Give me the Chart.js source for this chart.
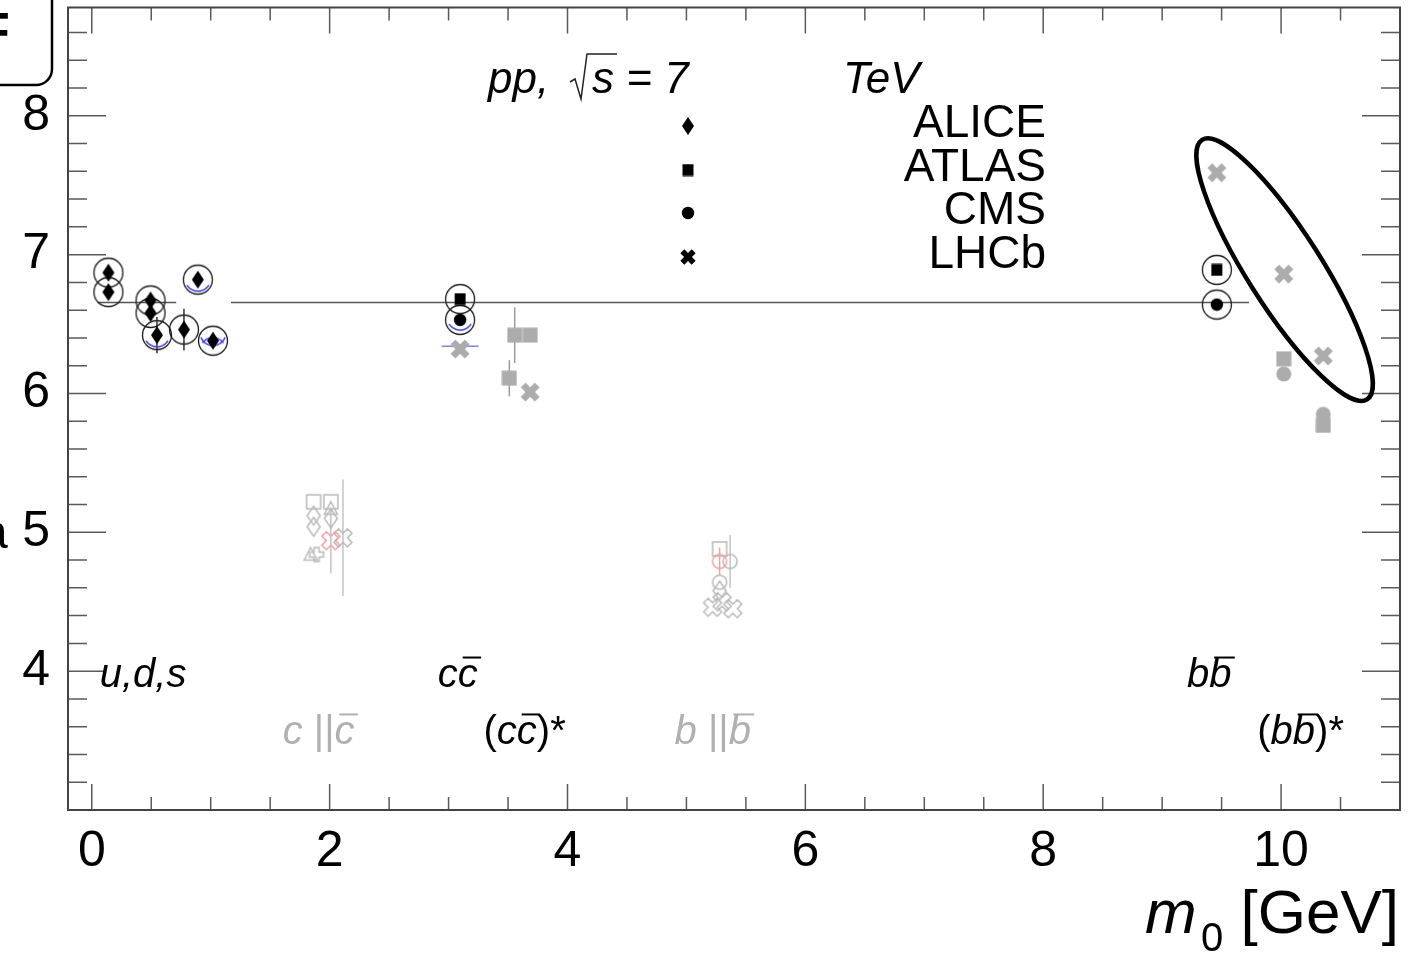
<!DOCTYPE html>
<html>
<head>
<meta charset="utf-8">
<script src="https://cdn.jsdelivr.net/npm/chart.js@4.4.1/dist/chart.umd.min.js"></script>
<style>
  html, body { margin: 0; padding: 0; background: #fff; overflow: hidden; }
  #wrap { width: 1426px; height: 956px; position: relative; }
</style>
</head>
<body>
<div id="wrap"><canvas id="chart" width="1426" height="956"></canvas></div>
<script>
// ---------------- axes ----------------
const xTicks = [0, 2, 4, 6, 8, 10];
const xMinorTicks = [0.5, 1, 1.5, 2.5, 3, 3.5, 4.5, 5, 5.5, 6.5, 7, 7.5, 8.5, 9, 9.5, 10.5];
const yTicks = [4, 5, 6, 7, 8];
const yMinorTicks = [3.2, 3.4, 3.6, 3.8, 4.2, 4.4, 4.6, 4.8, 5.2, 5.4, 5.6, 5.8,
                     6.2, 6.4, 6.6, 6.8, 7.2, 7.4, 7.6, 7.8, 8.2, 8.4, 8.6];

const experiments = ['ALICE', 'ATLAS', 'CMS', 'LHCb'];

// ---------------- light hadrons and ground-state quarkonia ----------------
const aliceMass = [0.140, 0.140, 0.494, 0.494, 0.548, 0.775, 0.892, 1.019];
const aliceM0   = [6.87, 6.73, 6.67, 6.58, 6.42, 6.46, 6.82, 6.38];
const aliceErr  = [0.02, 0.02, 0.03, 0.05, 0.13, 0.15, 0.03, 0.05];
const atlasMass = [3.097, 9.460];
const atlasM0   = [6.68, 6.89];
const cmsMass   = [3.097, 9.460];
const cmsM0     = [6.53, 6.64];

// ---------------- excited quarkonia ----------------
const lhcbExcMass  = [3.097, 3.686, 9.460, 10.023, 10.355];
const lhcbExcM0    = [6.32, 6.01, 7.59, 6.86, 6.27];
const atlasExcMass = [3.511, 3.556, 3.686, 10.023, 10.355];
const atlasExcM0   = [6.11, 6.42, 6.42, 6.25, 5.77];
const atlasExcErr  = [0.13, 0.20, 0.03, 0, 0];
const cmsExcMass   = [10.023, 10.355];
const cmsExcM0     = [6.14, 5.85];

// ---------------- open charm / open beauty ----------------
const aliceOpenMass = [1.865, 1.865, 2.010, 5.279];
const aliceOpenM0   = [5.12, 5.04, 5.10, 4.58];
const atlasOpenMass = [1.865, 2.010, 5.279];
const atlasOpenM0   = [5.22, 5.22, 4.88];
const cmsOpenMass   = [5.367, 5.279];
const cmsOpenM0     = [4.79, 4.64];
const cmsOpenErr    = [0.19, 0];
const lhcbOpenMass  = [2.112, 5.220, 5.300, 5.390];
const lhcbOpenM0    = [4.96, 4.46, 4.50, 4.45];
const lhcbOpenErr   = [0.42, 0, 0, 0];
const triOpenMass   = [2.010, 1.840];
const triOpenM0     = [5.17, 4.84];
const plusOpenMass  = [1.890];
const plusOpenM0    = [4.84];
const redXMass      = [2.010];
const redXM0        = [4.94];
const redXErr       = [0.235];
const redCircMass   = [5.279];
const redCircM0     = [4.79];
const redCircErr    = [0.10];

// ---------------- blue overlays ----------------
const blueArcMass = [0.548, 0.892, 1.019, 3.097];
const blueArcM0   = [6.43, 6.83, 6.41, 6.55];
const blueBarMass = [3.097];
const blueBarM0   = [6.34];
const blueBarErrX = [0.155];

// common level
const refLevel = 6.655;
const refSpans = [[0.05, 0.71], [1.17, 9.73]];

// category labels (data coordinates of the left end / baseline)
const groupText  = ['u,d,s', 'c#bar{c}', 'b#bar{b}', 'c ||#bar{c}', '(c#bar{c})*', 'b ||#bar{b}', '(b#bar{b})*'];
const groupX     = [0.067, 2.91, 9.21, 1.605, 3.294, 4.90, 9.80];
const groupY     = [3.885, 3.885, 3.885, 3.475, 3.475, 3.475, 3.475];
const groupMuted = [false, false, false, true, false, true, false];

// LHCb bottomonium ellipse: tips of the major axis (data) and half-width (px)
const ellipseTips = [[9.336, 7.827], [10.723, 5.957]];
const ellipseHalfWidth = 37;

// ---------------- marker bitmaps ----------------
const GRAY = '#acacac', OPEN = '#b9b9b9', RED = '#f2a0a0', BLUE = '#3a3ae6';
function mark(w, h, paint) {
  const c = document.createElement('canvas');
  c.width = w; c.height = h;
  paint(c.getContext('2d'), w / 2, h / 2);
  return c;
}
function crossPath(g, cx, cy, a, L, rot) {
  g.save(); g.translate(cx, cy); g.rotate(rot);
  const p = [[-a,-L],[a,-L],[a,-a],[L,-a],[L,a],[a,a],[a,L],[-a,L],[-a,a],[-L,a],[-L,-a],[-a,-a]];
  g.beginPath();
  p.forEach(([u, v], i) => i ? g.lineTo(u, v) : g.moveTo(u, v));
  g.closePath(); g.restore();
}
function diamondPath(g, cx, cy, hw, hh) {
  g.beginPath(); g.moveTo(cx, cy - hh); g.lineTo(cx + hw, cy); g.lineTo(cx, cy + hh); g.lineTo(cx - hw, cy); g.closePath();
}
const M = {
  diamond: mark(14, 20, (g, cx, cy) => { diamondPath(g, cx, cy, 6, 9); g.fillStyle = '#000'; g.fill(); }),
  square:  mark(13, 13, (g, cx, cy) => { g.fillStyle = '#000'; g.fillRect(cx - 5.5, cy - 6, 11, 12); }),
  dot:     mark(14, 14, (g, cx, cy) => { g.beginPath(); g.arc(cx, cy, 6.2, 0, 2 * Math.PI); g.fillStyle = '#000'; g.fill(); }),
  xBlack:  mark(20, 20, (g, cx, cy) => { crossPath(g, cx, cy, 2.8, 8, Math.PI / 4); g.fillStyle = '#000'; g.fill(); }),
  ring:    mark(34, 34, (g, cx, cy) => { g.beginPath(); g.arc(cx, cy, 14.5, 0, 2 * Math.PI); g.lineWidth = 1.3; g.strokeStyle = '#1a1a1a'; g.stroke(); }),
  xGray:   mark(26, 26, (g, cx, cy) => { crossPath(g, cx, cy, 3.4, 10, Math.PI / 4); g.fillStyle = GRAY; g.fill(); }),
  sqGray:  mark(16, 16, (g, cx, cy) => { g.fillStyle = GRAY; g.fillRect(cx - 7.5, cy - 7.5, 15, 15); }),
  dotGray: mark(18, 18, (g, cx, cy) => { g.beginPath(); g.arc(cx, cy, 7.5, 0, 2 * Math.PI); g.fillStyle = GRAY; g.fill(); }),
  oDiamond:mark(18, 24, (g, cx, cy) => { diamondPath(g, cx, cy, 6.5, 9.5); g.lineWidth = 1.5; g.strokeStyle = OPEN; g.stroke(); }),
  oSquare: mark(18, 18, (g, cx, cy) => { g.lineWidth = 1.5; g.strokeStyle = OPEN; g.strokeRect(cx - 7, cy - 7, 14, 14); }),
  oCircle: mark(18, 18, (g, cx, cy) => { g.beginPath(); g.arc(cx, cy, 7, 0, 2 * Math.PI); g.lineWidth = 1.5; g.strokeStyle = OPEN; g.stroke(); }),
  oX:      mark(26, 26, (g, cx, cy) => { crossPath(g, cx, cy, 3.2, 9.5, Math.PI / 4); g.lineWidth = 1.5; g.strokeStyle = OPEN; g.stroke(); }),
  oTri:    mark(18, 18, (g, cx, cy) => { g.beginPath(); g.moveTo(cx, cy - 7); g.lineTo(cx + 6.5, cy + 5.5); g.lineTo(cx - 6.5, cy + 5.5); g.closePath(); g.lineWidth = 1.5; g.strokeStyle = OPEN; g.stroke(); }),
  oPlus:   mark(20, 20, (g, cx, cy) => { crossPath(g, cx, cy, 2.5, 7, 0); g.lineWidth = 1.5; g.strokeStyle = OPEN; g.stroke(); }),
  rX:      mark(26, 26, (g, cx, cy) => { crossPath(g, cx, cy, 3.2, 9.5, Math.PI / 4); g.lineWidth = 1.6; g.strokeStyle = RED; g.stroke(); }),
  rCircle: mark(18, 18, (g, cx, cy) => { g.beginPath(); g.arc(cx, cy, 7, 0, 2 * Math.PI); g.lineWidth = 1.5; g.strokeStyle = RED; g.stroke(); }),
  arc:     mark(34, 34, (g, cx, cy) => { g.beginPath(); g.arc(cx, cy, 13, 0.18 * Math.PI, 0.82 * Math.PI); g.lineWidth = 1.5; g.strokeStyle = BLUE; g.stroke(); }),
  lens:    mark(34, 34, (g, cx, cy) => {
    g.lineWidth = 1.5; g.strokeStyle = BLUE;
    g.beginPath(); g.arc(cx, cy - 4, 13, 0.12 * Math.PI, 0.88 * Math.PI); g.stroke();
    g.beginPath(); g.arc(cx, cy + 14, 13, 1.2 * Math.PI, 1.8 * Math.PI); g.stroke();
  })
};

// ---------------- datasets ----------------
const pts = (xs, ys) => xs.map((x, i) => ({ x, y: ys[i] }));
function series(label, xs, ys, style, extra) {
  return Object.assign({ label, data: pts(xs, ys), pointStyle: style, pointRadius: 6, showLine: false }, extra || {});
}
const ringMass = aliceMass.concat(atlasMass, cmsMass);
const ringM0 = aliceM0.concat(atlasM0, cmsM0);

const refData = [];
refSpans.forEach(([a, b], i) => {
  if (i) refData.push({ x: (refSpans[i - 1][1] + a) / 2, y: null });
  refData.push({ x: a, y: refLevel }, { x: b, y: refLevel });
});

const datasets = [
  series(experiments[0], aliceMass, aliceM0, M.diamond, { errY: aliceErr, errColor: '#333' }),
  series(experiments[1], atlasMass, atlasM0, M.square),
  series(experiments[2], cmsMass, cmsM0, M.dot),
  series('ring', ringMass, ringM0, M.ring),
  series('blue', blueArcMass, blueArcM0, [M.arc, M.arc, M.lens, M.arc]),
  series(experiments[3] + ' excited', lhcbExcMass, lhcbExcM0, M.xGray),
  series(experiments[1] + ' excited', atlasExcMass, atlasExcM0, M.sqGray, { errY: atlasExcErr, errColor: '#9a9a9a' }),
  series(experiments[2] + ' excited', cmsExcMass, cmsExcM0, M.dotGray),
  series('red X', redXMass, redXM0, M.rX, { errY: redXErr, errColor: '#c4c4c4' }),
  series('red circle', redCircMass, redCircM0, M.rCircle, { errY: redCircErr, errColor: RED }),
  series(experiments[0] + ' open', aliceOpenMass, aliceOpenM0, M.oDiamond),
  series(experiments[1] + ' open', atlasOpenMass, atlasOpenM0, M.oSquare),
  series(experiments[2] + ' open', cmsOpenMass, cmsOpenM0, M.oCircle, { errY: cmsOpenErr, errColor: '#c4c4c4' }),
  series(experiments[3] + ' open', lhcbOpenMass, lhcbOpenM0, M.oX, { errY: lhcbOpenErr, errColor: '#c4c4c4' }),
  series('open triangle', triOpenMass, triOpenM0, M.oTri),
  series('open cross', plusOpenMass, plusOpenM0, M.oPlus),
  series('blue bar', blueBarMass, blueBarM0, 'circle', { pointRadius: 0.1, errX: blueBarErrX, errColor: '#7a86e8' }),
  { type: 'line', label: 'level', data: refData, showLine: true, spanGaps: false,
    borderColor: '#555', borderWidth: 1.5, pointRadius: 0 }
];

// ---------------- helpers for text ----------------
const FONT = '"Liberation Sans", Arial, Helvetica, sans-serif';
function drawRich(ctx, str, x, y, size, color) {
  ctx.fillStyle = color; ctx.strokeStyle = color; ctx.textBaseline = 'alphabetic'; ctx.textAlign = 'left';
  const re = /#bar\{(.)\}|(.)/g;
  let m, cx = x;
  while ((m = re.exec(str))) {
    const ch = m[1] || m[2];
    const italic = /[A-Za-z,]/.test(ch);
    ctx.font = (italic ? 'italic ' : '') + size + 'px ' + FONT;
    ctx.fillText(ch, cx, y);
    const w = ctx.measureText(ch).width;
    if (m[1]) {
      ctx.lineWidth = 2;
      ctx.beginPath();
      ctx.moveTo(cx + size * 0.12, y - size * 0.74);
      ctx.lineTo(cx + w + size * 0.08, y - size * 0.74);
      ctx.stroke();
    }
    cx += w;
  }
}

// ---------------- plugins ----------------
const frameAndTicks = {
  id: 'frameAndTicks',
  beforeDatasetsDraw(chart) {
    const { ctx, chartArea: a, scales: { x, y } } = chart;
    ctx.save();
    ctx.strokeStyle = '#5a5a5a'; ctx.lineWidth = 1.5;
    ctx.beginPath();
    const tick = (list, len, horiz) => list.forEach(v => {
      if (horiz) {
        const p = y.getPixelForValue(v);
        ctx.moveTo(a.left, p); ctx.lineTo(a.left + len, p);
        ctx.moveTo(a.right, p); ctx.lineTo(a.right - len, p);
      } else {
        const p = x.getPixelForValue(v);
        ctx.moveTo(p, a.bottom); ctx.lineTo(p, a.bottom - len);
        ctx.moveTo(p, a.top); ctx.lineTo(p, a.top + len);
      }
    });
    tick(xTicks, 26, false); tick(xMinorTicks, 13, false);
    tick(yTicks, 38, true); tick(yMinorTicks, 19, true);
    ctx.stroke();
    ctx.strokeStyle = '#444'; ctx.lineWidth = 2;
    ctx.strokeRect(a.left, a.top, a.right - a.left, a.bottom - a.top);
    ctx.restore();

    // error bars below the markers
    ctx.save();
    ctx.lineWidth = 1.5;
    chart.data.datasets.forEach((ds) => {
      if (!ds.errY && !ds.errX) return;
      ctx.strokeStyle = ds.errColor || '#333';
      ds.data.forEach((p, j) => {
        const ey = ds.errY ? ds.errY[j] : 0, ex = ds.errX ? ds.errX[j] : 0;
        ctx.beginPath();
        if (ey) {
          const px = x.getPixelForValue(p.x);
          ctx.moveTo(px, y.getPixelForValue(p.y + ey)); ctx.lineTo(px, y.getPixelForValue(p.y - ey));
        }
        if (ex) {
          const py = y.getPixelForValue(p.y);
          ctx.moveTo(x.getPixelForValue(p.x - ex), py); ctx.lineTo(x.getPixelForValue(p.x + ex), py);
        }
        ctx.stroke();
      });
    });
    ctx.restore();
  },
  afterDatasetsDraw(chart) {
    const { ctx, scales: { x, y } } = chart;
    ctx.save();
    // ellipse around the LHCb bottomonium points
    const [p1, p2] = ellipseTips.map(([u, v]) => [x.getPixelForValue(u), y.getPixelForValue(v)]);
    const cx = (p1[0] + p2[0]) / 2, cy = (p1[1] + p2[1]) / 2;
    const semi = Math.hypot(p2[0] - p1[0], p2[1] - p1[1]) / 2;
    const ang = Math.atan2(p2[1] - p1[1], p2[0] - p1[0]);
    ctx.beginPath();
    ctx.ellipse(cx, cy, semi, ellipseHalfWidth, ang, 0, 2 * Math.PI);
    ctx.lineWidth = 4.5; ctx.strokeStyle = '#000'; ctx.stroke();

    // category labels
    groupText.forEach((t, i) => {
      drawRich(ctx, t, x.getPixelForValue(groupX[i]), y.getPixelForValue(groupY[i]), 40,
               groupMuted[i] ? '#b0b0b0' : '#000');
    });
    ctx.restore();
  },
  afterDraw(chart) {
    const { ctx } = chart;
    ctx.save();
    // legend
    const legendMarks = [M.diamond, M.square, M.dot, M.xBlack];
    const rowY = [126, 170, 213, 257];
    ctx.font = '46px ' + FONT; ctx.fillStyle = '#000';
    ctx.textAlign = 'right'; ctx.textBaseline = 'alphabetic';
    experiments.forEach((name, i) => {
      const mk = legendMarks[i];
      ctx.drawImage(mk, 688 - mk.width / 2, rowY[i] - mk.height / 2);
      ctx.fillText(name, 1046, rowY[i] + 11);
    });

    // collision system
    ctx.textAlign = 'left';
    ctx.font = 'italic 44px ' + FONT;
    ctx.fillText('pp,', 488, 93);
    ctx.fillText('s = 7', 592, 93);
    ctx.fillText('TeV', 843, 93);
    ctx.beginPath();
    ctx.moveTo(570, 82); ctx.lineTo(575, 79); ctx.lineTo(581, 99); ctx.lineTo(587, 54); ctx.lineTo(617, 54);
    ctx.lineWidth = 1.5; ctx.strokeStyle = '#222'; ctx.stroke();

    // x axis title
    ctx.font = 'italic 62px ' + FONT;
    ctx.fillText('m', 1145, 933);
    ctx.font = '40px ' + FONT;
    ctx.fillText('0', 1201, 951);
    ctx.textAlign = 'right';
    ctx.font = '62px ' + FONT;
    ctx.fillText('[GeV]', 1399, 933);

    // neighbouring panel edge
    ctx.textAlign = 'left';
    ctx.font = 'bold 52px ' + FONT;
    ctx.fillText('F', -22, 49);
    ctx.font = '48px ' + FONT;
    ctx.fillText('a', -19, 548);
    ctx.beginPath();
    ctx.moveTo(-10, 85); ctx.lineTo(36, 85);
    ctx.arcTo(52, 85, 52, 69, 16);
    ctx.lineTo(52, -10);
    ctx.lineWidth = 2.5; ctx.strokeStyle = '#000'; ctx.stroke();
    ctx.restore();
  }
};

// ---------------- chart ----------------
new Chart(document.getElementById('chart'), {
  type: 'scatter',
  data: { datasets },
  options: {
    responsive: false,
    devicePixelRatio: 1,
    animation: false,
    events: [],
    layout: { padding: { top: 7.5, right: 26, left: 0, bottom: 0 } },
    plugins: { legend: { display: false }, tooltip: { enabled: false } },
    scales: {
      x: {
        type: 'linear', min: -0.2, max: 11.0,
        afterBuildTicks: s => { s.ticks = xTicks.map(v => ({ value: v })); },
        afterFit: s => { s.height = 146; s.paddingLeft = 0; s.paddingRight = 0; },
        grid: { display: false, drawTicks: false },
        border: { display: false },
        ticks: { font: { family: FONT, size: 50 }, color: '#000', padding: 12, maxRotation: 0, autoSkip: false,
                 callback: v => String(v) }
      },
      y: {
        type: 'linear', min: 3.0, max: 8.78,
        afterBuildTicks: s => { s.ticks = yTicks.map(v => ({ value: v })); },
        afterFit: s => { s.width = 68; s.paddingTop = 0; s.paddingBottom = 0; },
        grid: { display: false, drawTicks: false },
        border: { display: false },
        ticks: { font: { family: FONT, size: 50 }, color: '#000', padding: 18, autoSkip: false,
                 callback: v => String(v) }
      }
    }
  },
  plugins: [frameAndTicks]
});
</script>
</body>
</html>
